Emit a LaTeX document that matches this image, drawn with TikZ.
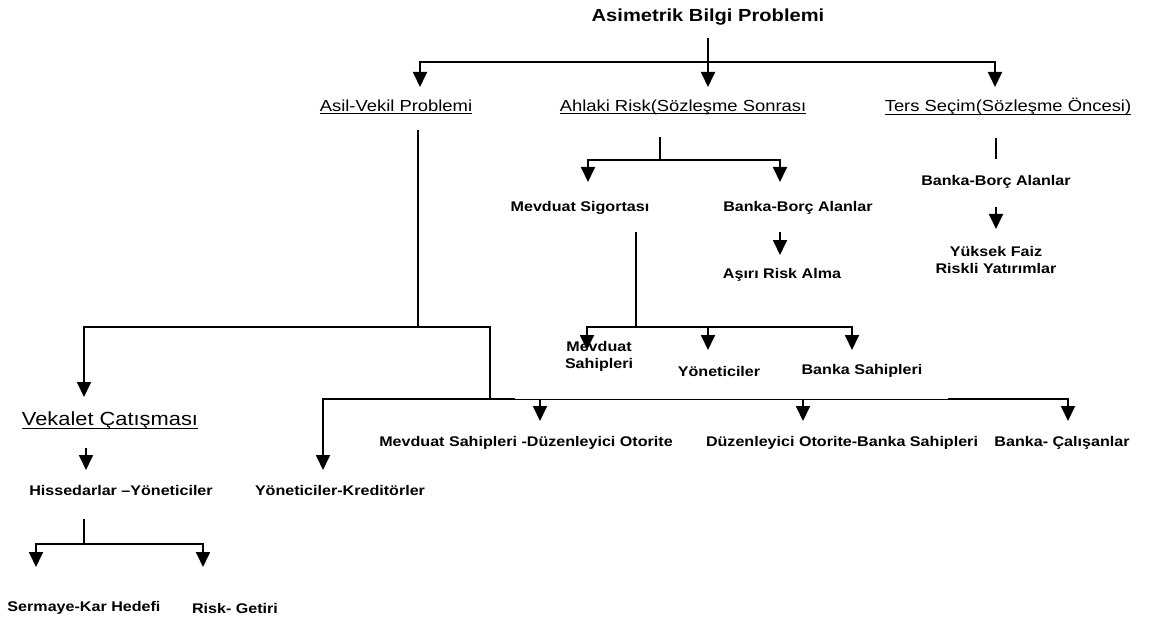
\documentclass[tikz,border=0pt]{standalone}
\usepackage{fontspec}
\setmainfont{Liberation Sans}[FakeStretch=1.15]
\usetikzlibrary{arrows.meta}
% underline at a fixed depth below the baseline
\newcommand{\myul}[1]{\setbox0\hbox{#1}\leavevmode\rlap{\rule[-3.2pt]{\wd0}{1.2pt}}\box0}

\begin{document}
\begin{tikzpicture}[x=1pt,y=-1pt,
  title/.style={font=\bfseries\fontsize{17.5}{20}\selectfont, inner sep=0pt},
  head/.style={font=\fontsize{16}{19}\selectfont, inner sep=0pt},
  bighead/.style={font=\fontsize{19}{22}\selectfont, inner sep=0pt},
  lbl/.style={font=\bfseries\fontsize{14}{17}\selectfont, inner sep=0pt, align=center},
  ln/.style={line width=1.8pt},
  thinln/.style={line width=1pt},
  arr/.style={ln, -{Triangle[width=14pt,length=15pt]}}]
\useasboundingbox (0,0) rectangle (1163,623);

% ---------- texts ----------
\node[title] (T)  at (708,17)  {Asimetrik Bilgi Problemi};
\node[head]  (AV) at (396,107) {\myul{Asil-Vekil Problemi}};
\node[head]  (AR) at (683,107) {\myul{Ahlaki Risk(Sözleşme Sonrası}};
\node[head]  (TS) at (1008,107) {\myul{Ters Seçim(Sözleşme Öncesi)}};

\node[lbl] (MS)  at (580,208) {Mevduat Sigortası};
\node[lbl] (BB1) at (798,208) {Banka-Borç Alanlar};
\node[lbl] (AS)  at (782,275) {Aşırı Risk Alma};

\node[lbl] (BB2) at (996,182) {Banka-Borç Alanlar};
\node[lbl] (YF)  at (996,260) {Yüksek Faiz\\Riskli Yatırımlar};

\node[lbl] (MSH) at (599,356) {Mevduat\\Sahipleri};
\node[lbl] (YN)  at (719,371) {Yöneticiler};
\node[lbl] (BS)  at (862,371) {Banka Sahipleri};

\node[bighead] (VC) at (110,421) {\myul{Vekalet Çatışması}};
\node[lbl] (HY)  at (121,490) {Hissedarlar –Yöneticiler};
\node[lbl] (YK)  at (340,490) {Yöneticiler-Kreditörler};
\node[lbl] (SK)  at (84,608)  {Sermaye-Kar Hedefi};
\node[lbl] (RG)  at (235,608) {Risk- Getiri};

\node[lbl] (MD)  at (526,443) {Mevduat Sahipleri -Düzenleyici Otorite};
\node[lbl] (DB)  at (842,443) {Düzenleyici Otorite-Banka Sahipleri};
\node[lbl] (BC)  at (1062,443) {Banka- Çalışanlar};

% ---------- junctions and arrow tips ----------
\coordinate (tTop) at (708,38);
\coordinate (tBar) at (708,62);
\coordinate (avTip) at (420,87);
\coordinate (arTip) at (708,87);
\coordinate (tsTip) at (995,87);

\coordinate (arDown) at (660,137);
\coordinate (arBar)  at (660,160);
\coordinate (msTip)  at (588,182);
\coordinate (bbTip)  at (780,182);
\coordinate (bbDown) at (780,232);
\coordinate (asTip)  at (780,255);

\coordinate (tsDown) at (996,138);
\coordinate (tsEnd)  at (996,159);
\coordinate (bb2Down) at (996,207);
\coordinate (yfTip)   at (996,229);

\coordinate (msDown) at (636,232);
\coordinate (msBar)  at (636,327);
\coordinate (mshTip) at (587,350);
\coordinate (ynTip)  at (708,350);
\coordinate (bsTip)  at (852,350);

\coordinate (avDown) at (418,130);
\coordinate (avBar)  at (418,327);
\coordinate (vcTip)  at (84,397);
\coordinate (avLow)  at (490,399);
\coordinate (lowL)   at (323,399);
\coordinate (lowA)   at (515,399);
\coordinate (lowB)   at (948,399);
\coordinate (lowR)   at (1068,399);
\coordinate (ykTip)  at (323,470);
\coordinate (mdTop)  at (540,399);
\coordinate (mdTip)  at (540,421);
\coordinate (dbTop)  at (803,399);
\coordinate (dbTip)  at (803,421);
\coordinate (bcTip)  at (1068,421);

\coordinate (vcDown) at (86,448);
\coordinate (hyTip)  at (86,470);
\coordinate (hyDown) at (84,519);
\coordinate (hyBar)  at (84,544);
\coordinate (skTip)  at (36,567);
\coordinate (rgTip)  at (203,567);

% ---------- connectors ----------
\draw[arr] (tTop) -- (arTip);
\draw[arr] (tBar) -| (avTip);
\draw[arr] (tBar) -| (tsTip);

\draw[ln]  (arDown) -- (arBar);
\draw[arr] (arBar) -| (msTip);
\draw[arr] (arBar) -| (bbTip);
\draw[arr] (bbDown) -- (asTip);

\draw[ln]  (tsDown) -- (tsEnd);
\draw[arr] (bb2Down) -- (yfTip);

\draw[ln]  (msDown) -- (msBar);
\draw[arr] (msBar) -| (mshTip);
\draw[arr] (msBar) -| (ynTip);
\draw[arr] (msBar) -| (bsTip);

\draw[ln]  (avDown) -- (avBar);
\draw[arr] (avBar) -| (vcTip);
\draw[ln]  (avBar) -| (avLow);
\draw[arr] (lowA) -- (lowL) -- (ykTip);
\draw[thinln] (lowA) -- (lowB);
\draw[arr] (lowB) -- (lowR) -- (bcTip);
\draw[arr] (mdTop) -- (mdTip);
\draw[arr] (dbTop) -- (dbTip);

\draw[arr] (vcDown) -- (hyTip);
\draw[ln]  (hyDown) -- (hyBar);
\draw[arr] (hyBar) -| (skTip);
\draw[arr] (hyBar) -| (rgTip);
\end{tikzpicture}
\end{document}
